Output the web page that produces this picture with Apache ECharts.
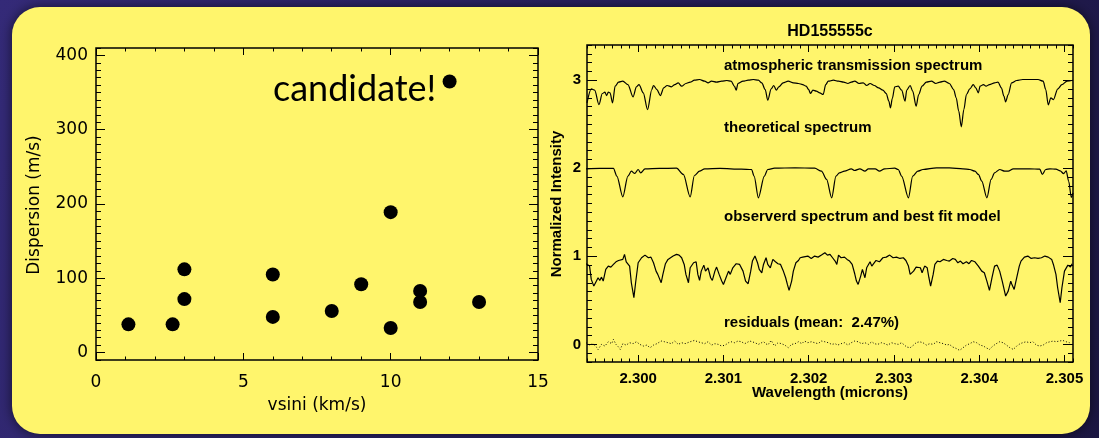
<!DOCTYPE html>
<html>
<head>
<meta charset="utf-8">
<script src="https://cdn.jsdelivr.net/npm/echarts@6/dist/echarts.min.js"></script>
<style>
  html, body { margin: 0; padding: 0; background: #221c52; }
  #main { width: 1099px; height: 438px; }
</style>
</head>
<body>
<div id="main"></div>
<script>
// left panel: scatter of dispersion vs vsini
var vsini = [1.1, 2.6, 3, 3, 6, 6, 8, 9, 10, 10, 11, 11, 13, 12];
var dispersion = [38, 38, 112, 72, 105, 48, 56, 92, 189, 33, 83, 68, 68, 365];
var vsiniTicks = [0, 5, 10, 15];
var dispersionTicks = [0, 100, 200, 300, 400];

// right panel: spectra, [wavelength (microns), normalized intensity]
var waveTicks = [2.300, 2.301, 2.302, 2.303, 2.304, 2.305];
var intensityTicks = [0, 1, 2, 3];

var atmosphere = [
  [2.29940,2.743],[2.29945,2.902],[2.29949,2.887],[2.29954,2.724],[2.29958,2.849],[2.29961,2.864],
  [2.29963,2.826],[2.29965,2.864],[2.29967,2.857],[2.29970,2.743],[2.29973,2.932],[2.29977,2.978],
  [2.29982,2.989],[2.29988,2.951],[2.29994,2.811],[2.29998,2.925],[2.30001,2.951],[2.30006,2.857],
  [2.30011,2.667],[2.30016,2.894],[2.30018,2.940],[2.30022,2.894],[2.30026,2.826],[2.30030,2.913],
  [2.30034,2.940],[2.30039,2.925],[2.30043,2.951],[2.30047,2.970],[2.30051,2.932],[2.30056,2.963],
  [2.30061,2.978],[2.30066,3.000],[2.30072,3.008],[2.30078,2.989],[2.30082,2.970],[2.30086,2.989],
  [2.30092,2.978],[2.30098,2.989],[2.30104,2.997],[2.30109,2.989],[2.30113,2.930],[2.30115,2.887],
  [2.30117,2.963],[2.30123,2.989],[2.30129,3.000],[2.30135,3.008],[2.30141,3.000],[2.30145,2.970],
  [2.30149,2.894],[2.30152,2.773],[2.30156,2.902],[2.30159,2.940],[2.30162,2.887],[2.30165,2.925],
  [2.30170,2.970],[2.30176,2.989],[2.30182,2.970],[2.30188,2.963],[2.30193,2.951],[2.30197,2.932],
  [2.30200,2.894],[2.30202,2.849],[2.30205,2.887],[2.30209,2.876],[2.30213,2.857],[2.30217,2.838],
  [2.30220,2.951],[2.30223,2.989],[2.30229,3.000],[2.30235,2.989],[2.30241,2.978],[2.30246,2.963],
  [2.30250,2.978],[2.30254,2.989],[2.30259,2.963],[2.30264,2.970],[2.30268,2.940],[2.30272,2.963],
  [2.30277,2.940],[2.30282,2.913],[2.30287,2.887],[2.30291,2.849],[2.30294,2.762],[2.30296,2.686],
  [2.30298,2.790],[2.30301,2.925],[2.30305,2.932],[2.30309,2.887],[2.30313,2.762],[2.30315,2.887],
  [2.30319,2.940],[2.30322,2.876],[2.30326,2.705],[2.30329,2.838],[2.30333,2.932],[2.30338,2.978],
  [2.30344,2.989],[2.30349,2.963],[2.30354,2.978],[2.30359,2.989],[2.30365,2.963],[2.30370,2.894],
  [2.30373,2.800],[2.30376,2.648],[2.30379,2.471],[2.30382,2.667],[2.30385,2.838],[2.30389,2.902],
  [2.30393,2.951],[2.30396,2.913],[2.30399,2.857],[2.30401,2.932],[2.30405,2.951],[2.30408,2.932],
  [2.30412,2.951],[2.30418,2.970],[2.30422,2.978],[2.30426,2.913],[2.30429,2.819],[2.30431,2.754],
  [2.30434,2.838],[2.30438,2.970],[2.30444,2.997],[2.30451,3.008],[2.30459,3.008],[2.30469,3.008],
  [2.30475,2.989],[2.30478,2.894],[2.30481,2.720],[2.30484,2.800],[2.30487,2.780],[2.30492,2.900],
  [2.30497,2.950],[2.30503,2.990],[2.30510,3.000]
];

var theory = [
  [2.29939,1.994],[2.29955,1.998],[2.29971,1.998],[2.29975,1.911],[2.29982,1.676],[2.29988,1.911],
  [2.29992,1.967],[2.29996,1.941],[2.30000,1.986],[2.30003,1.948],[2.30008,1.994],[2.30025,1.998],
  [2.30045,2.001],[2.30053,1.930],[2.30061,1.676],[2.30066,1.918],[2.30072,1.967],[2.30078,1.994],
  [2.30096,1.998],[2.30121,1.990],[2.30133,1.986],[2.30136,1.911],[2.30141,1.665],[2.30148,1.911],
  [2.30152,1.986],[2.30160,2.001],[2.30184,2.005],[2.30207,2.001],[2.30215,1.967],[2.30221,1.873],
  [2.30227,1.665],[2.30232,1.911],[2.30236,1.948],[2.30242,1.967],[2.30250,1.994],[2.30254,1.975],
  [2.30260,1.994],[2.30266,1.967],[2.30270,1.994],[2.30278,1.994],[2.30283,1.967],[2.30289,1.994],
  [2.30301,2.001],[2.30305,1.986],[2.30309,1.911],[2.30317,1.665],[2.30322,1.911],[2.30328,1.967],
  [2.30334,1.986],[2.30350,2.005],[2.30365,2.005],[2.30381,1.994],[2.30389,1.986],[2.30395,1.967],
  [2.30399,1.930],[2.30403,1.854],[2.30409,1.665],[2.30414,1.873],[2.30418,1.948],[2.30424,1.986],
  [2.30430,1.967],[2.30434,1.967],[2.30440,1.994],[2.30459,1.994],[2.30471,1.990],[2.30474,1.930],
  [2.30478,1.986],[2.30483,1.994],[2.30490,1.990],[2.30495,1.970],[2.30499,1.940],[2.30502,1.970],
  [2.30505,1.850],[2.30508,1.670],[2.30510,1.720]
];

var observed = [
  [2.29939,0.916],[2.29943,0.889],[2.29945,0.738],[2.29948,0.662],[2.29950,0.700],[2.29953,0.757],
  [2.29955,0.726],[2.29957,0.764],[2.29959,0.719],[2.29962,0.851],[2.29965,0.889],[2.29968,0.878],
  [2.29971,0.908],[2.29974,0.938],[2.29977,0.953],[2.29979,0.938],[2.29982,0.965],[2.29984,1.022],
  [2.29986,0.938],[2.29988,0.946],[2.29990,0.889],[2.29992,0.700],[2.29995,0.530],[2.29997,0.700],
  [2.30000,0.927],[2.30004,0.984],[2.30008,1.014],[2.30012,0.984],[2.30015,0.991],[2.30018,0.927],
  [2.30021,0.832],[2.30023,0.795],[2.30027,0.700],[2.30029,0.795],[2.30032,0.916],[2.30035,0.965],
  [2.30038,0.984],[2.30041,1.003],[2.30045,1.022],[2.30048,1.014],[2.30051,0.984],[2.30054,0.908],
  [2.30056,0.795],[2.30059,0.700],[2.30061,0.870],[2.30065,0.927],[2.30068,0.938],[2.30070,0.795],
  [2.30072,0.726],[2.30074,0.832],[2.30077,0.900],[2.30079,0.832],[2.30082,0.870],[2.30085,0.757],
  [2.30087,0.726],[2.30090,0.832],[2.30092,0.878],[2.30095,0.795],[2.30098,0.719],[2.30100,0.681],
  [2.30103,0.757],[2.30106,0.832],[2.30108,0.795],[2.30111,0.870],[2.30115,0.916],[2.30117,0.938],
  [2.30119,0.908],[2.30123,0.832],[2.30126,0.719],[2.30129,0.689],[2.30132,0.832],[2.30134,0.946],
  [2.30137,1.003],[2.30140,0.927],[2.30142,0.851],[2.30145,0.813],[2.30147,0.908],[2.30150,0.984],
  [2.30152,0.908],[2.30155,0.870],[2.30158,0.965],[2.30161,0.938],[2.30164,0.916],[2.30167,0.908],
  [2.30170,0.840],[2.30173,0.757],[2.30175,0.681],[2.30177,0.613],[2.30180,0.719],[2.30182,0.832],
  [2.30185,0.927],[2.30188,0.953],[2.30190,0.984],[2.30193,0.991],[2.30195,0.984],[2.30199,1.003],
  [2.30203,0.976],[2.30207,1.003],[2.30211,0.991],[2.30215,1.014],[2.30219,1.040],[2.30222,1.014],
  [2.30225,1.022],[2.30228,0.984],[2.30231,0.946],[2.30233,0.908],[2.30235,1.014],[2.30238,0.984],
  [2.30242,0.991],[2.30245,0.965],[2.30248,0.946],[2.30251,0.908],[2.30254,0.802],[2.30256,0.719],
  [2.30258,0.681],[2.30261,0.776],[2.30263,0.851],[2.30266,0.757],[2.30268,0.870],[2.30272,0.938],
  [2.30274,0.889],[2.30276,0.870],[2.30279,0.953],[2.30283,0.938],[2.30287,0.984],[2.30291,0.991],
  [2.30295,1.014],[2.30299,0.984],[2.30303,0.991],[2.30307,0.976],[2.30311,0.984],[2.30314,0.953],
  [2.30317,0.889],[2.30319,0.795],[2.30323,0.832],[2.30326,0.878],[2.30328,0.900],[2.30331,0.870],
  [2.30333,0.813],[2.30336,0.889],[2.30339,0.870],[2.30341,0.757],[2.30343,0.662],[2.30346,0.795],
  [2.30348,0.908],[2.30351,0.946],[2.30354,0.938],[2.30358,0.965],[2.30362,0.953],[2.30365,0.946],
  [2.30369,0.976],[2.30372,0.965],[2.30375,0.927],[2.30378,0.946],[2.30381,0.916],[2.30385,0.938],
  [2.30388,0.916],[2.30391,0.953],[2.30395,0.938],[2.30399,0.889],[2.30403,0.832],[2.30406,0.813],
  [2.30409,0.719],[2.30412,0.613],[2.30415,0.757],[2.30418,0.889],[2.30421,0.900],[2.30424,0.832],
  [2.30427,0.719],[2.30431,0.549],[2.30434,0.605],[2.30437,0.719],[2.30438,0.689],[2.30441,0.624],
  [2.30444,0.757],[2.30447,0.889],[2.30449,0.946],[2.30453,0.991],[2.30457,1.003],[2.30461,0.976],
  [2.30465,0.984],[2.30469,0.976],[2.30473,0.984],[2.30477,1.003],[2.30481,0.991],[2.30485,0.965],
  [2.30487,0.908],[2.30490,0.795],[2.30492,0.643],[2.30495,0.473],[2.30497,0.643],[2.30500,0.832],
  [2.30504,0.900],[2.30507,0.878],[2.30509,0.916]
];

var residuals = [
  [2.29939,0.019],[2.29943,-0.008],[2.29947,0.008],[2.29951,-0.030],[2.29953,-0.057],[2.29957,0.000],
  [2.29961,-0.019],[2.29965,0.030],[2.29969,0.008],[2.29971,0.057],[2.29974,0.000],[2.29977,-0.030],
  [2.29979,-0.057],[2.29982,0.008],[2.29986,-0.008],[2.29990,0.019],[2.29994,0.008],[2.29998,0.030],
  [2.30002,0.000],[2.30006,-0.019],[2.30010,-0.008],[2.30014,-0.038],[2.30018,-0.008],[2.30022,0.008],
  [2.30027,0.038],[2.30031,0.030],[2.30035,0.019],[2.30039,0.008],[2.30043,0.038],[2.30047,0.000],
  [2.30051,0.019],[2.30055,0.008],[2.30061,0.030],[2.30066,0.045],[2.30070,0.030],[2.30074,0.019],
  [2.30078,0.008],[2.30082,0.030],[2.30086,-0.008],[2.30090,0.008],[2.30094,0.000],[2.30098,-0.019],
  [2.30102,-0.008],[2.30106,0.019],[2.30109,0.030],[2.30113,0.019],[2.30117,0.038],[2.30121,0.030],
  [2.30125,0.008],[2.30131,0.038],[2.30137,0.019],[2.30141,0.000],[2.30147,0.030],[2.30152,-0.008],
  [2.30156,0.045],[2.30160,-0.019],[2.30164,0.019],[2.30168,0.008],[2.30172,-0.008],[2.30176,-0.038],
  [2.30180,0.000],[2.30184,0.008],[2.30188,0.030],[2.30192,0.008],[2.30195,0.038],[2.30199,0.019],
  [2.30203,0.030],[2.30207,0.019],[2.30211,0.008],[2.30215,0.038],[2.30219,0.030],[2.30223,0.019],
  [2.30227,0.000],[2.30231,0.008],[2.30234,-0.008],[2.30238,0.008],[2.30242,0.019],[2.30246,-0.008],
  [2.30250,0.019],[2.30254,0.038],[2.30258,0.030],[2.30262,0.008],[2.30266,0.019],[2.30270,0.000],
  [2.30274,0.030],[2.30277,0.008],[2.30281,0.000],[2.30285,0.019],[2.30289,0.008],[2.30293,-0.008],
  [2.30297,0.019],[2.30301,0.008],[2.30305,0.000],[2.30309,0.019],[2.30311,0.008],[2.30315,-0.030],
  [2.30319,-0.038],[2.30323,-0.008],[2.30326,0.019],[2.30330,0.030],[2.30334,0.019],[2.30338,-0.008],
  [2.30342,0.008],[2.30346,0.000],[2.30350,0.030],[2.30354,0.019],[2.30358,0.008],[2.30362,-0.008],
  [2.30365,0.000],[2.30369,-0.030],[2.30373,-0.046],[2.30377,-0.068],[2.30381,-0.038],[2.30385,-0.008],
  [2.30389,0.008],[2.30393,0.030],[2.30397,0.019],[2.30401,-0.008],[2.30405,-0.019],[2.30408,-0.038],
  [2.30412,-0.057],[2.30416,-0.019],[2.30420,0.008],[2.30424,0.030],[2.30428,0.019],[2.30432,-0.008],
  [2.30436,-0.038],[2.30440,-0.057],[2.30444,-0.019],[2.30448,0.008],[2.30451,0.019],[2.30455,0.030],
  [2.30459,0.019],[2.30463,0.030],[2.30467,-0.008],[2.30471,-0.019],[2.30475,-0.008],[2.30479,0.019],
  [2.30483,0.030],[2.30487,0.038],[2.30490,0.030],[2.30494,0.038],[2.30498,0.045],[2.30502,0.030],
  [2.30506,0.019]
];

var black = '#000';

// tick positions between two limits (used for the small inner ticks)
function steps(from, to, step) {
  var out = [];
  var n = Math.round((to - from) / step);
  for (var i = 0; i <= n; i++) out.push(Math.round((from + i * step) * 1e6) / 1e6);
  return out;
}

// every axis draws its ticks inside the frame, IDL style
function tickAxis(grid, pos, min, max, ticks, len, label) {
  var a = {
    type: 'value', gridIndex: grid, position: pos, min: min, max: max,
    axisLine: { show: false, onZero: false },
    splitLine: { show: false },
    axisLabel: { show: false },
    axisTick: { show: true, inside: true, length: len, customValues: ticks,
      lineStyle: { color: black, width: 1 } }
  };
  if (label) {
    a.axisLabel = Object.assign({ show: true, customValues: ticks, color: black }, label);
  }
  return a;
}

var leftLabel = { fontFamily: 'DejaVu Sans', fontSize: 17 };
var rightLabel = { fontFamily: 'Liberation Sans', fontWeight: 'bold', fontSize: 15 };

var xMinorL = steps(0, 15, 1);
var yMinorL = steps(-10, 410, 10);
var xMinorR = steps(2.2994, 2.3051, 0.0001);
var yMinorR = steps(-0.2, 3.4, 0.1);

var xAxes = [
  tickAxis(0, 'bottom', 0, 15, vsiniTicks, 7, Object.assign({ margin: 14 }, leftLabel)),
  tickAxis(0, 'bottom', 0, 15, xMinorL, 3.5),
  tickAxis(0, 'top', 0, 15, vsiniTicks, 7),
  tickAxis(0, 'top', 0, 15, xMinorL, 3.5),
  tickAxis(1, 'bottom', 2.2994, 2.3051, waveTicks, 7,
    Object.assign({ margin: 9, formatter: function (v) { return v.toFixed(3); } }, rightLabel)),
  tickAxis(1, 'bottom', 2.2994, 2.3051, xMinorR, 3.5),
  tickAxis(1, 'top', 2.2994, 2.3051, waveTicks, 7),
  tickAxis(1, 'top', 2.2994, 2.3051, xMinorR, 3.5)
];
var yAxes = [
  tickAxis(0, 'left', -10, 410, dispersionTicks, 9, Object.assign({ margin: 8 }, leftLabel)),
  tickAxis(0, 'left', -10, 410, yMinorL, 5),
  tickAxis(0, 'right', -10, 410, dispersionTicks, 9),
  tickAxis(0, 'right', -10, 410, yMinorL, 5),
  tickAxis(1, 'left', -0.2, 3.4, intensityTicks, 10, Object.assign({ margin: 6 }, rightLabel)),
  tickAxis(1, 'left', -0.2, 3.4, yMinorR, 5),
  tickAxis(1, 'right', -0.2, 3.4, intensityTicks, 10),
  tickAxis(1, 'right', -0.2, 3.4, yMinorR, 5)
];

function label(text, x, y, font, align, rot) {
  return {
    type: 'text', z: 100, x: x, y: y, rotation: rot || 0,
    style: { text: text, font: font, fill: black, textAlign: align || 'center', textVerticalAlign: 'middle' }
  };
}

var boldFont = 'bold 15px "Liberation Sans", Arial, sans-serif';
var spectrumLine = { color: black, width: 1.2 };

var option = {
  animation: false,
  backgroundColor: '#221c52',
  grid: [
    { left: 96, top: 48, width: 442, height: 312, show: true, borderColor: black, borderWidth: 1.5,
      backgroundColor: 'transparent', outerBoundsMode: 'none' },
    { left: 587, top: 45, width: 486, height: 317, show: true, borderColor: black, borderWidth: 1.5,
      backgroundColor: 'transparent', outerBoundsMode: 'none' }
  ],
  xAxis: xAxes,
  yAxis: yAxes,
  graphic: [
    { type: 'rect', z: -10, shape: { x: 0, y: 0, width: 1099, height: 438 },
      style: { fill: new echarts.graphic.LinearGradient(0, 0, 1, 1, [
        { offset: 0, color: '#342a78' }, { offset: 1, color: '#1b1642' }]) } },
    { type: 'rect', z: -9, shape: { x: 12, y: 7, width: 1078, height: 427, r: 28 },
      style: { fill: '#fff56c', shadowBlur: 12, shadowColor: 'rgba(0,0,0,0.6)' } },
    label('candidate!', 273, 89, '36px Lato, sans-serif', 'left'),
    label('vsini (km/s)', 317, 406, '17px "DejaVu Sans", sans-serif'),
    label('Dispersion (m/s)', 35, 205, '17px "DejaVu Sans", sans-serif', 'center', Math.PI / 2),
    label('HD155555c', 830, 32, 'bold 16px "Liberation Sans", Arial, sans-serif'),
    label('atmospheric transmission spectrum', 724, 66, boldFont, 'left'),
    label('theoretical spectrum', 724, 128, boldFont, 'left'),
    label('observerd spectrum and best fit model', 724, 217, boldFont, 'left'),
    label('residuals (mean:  2.47%)', 724, 323, boldFont, 'left'),
    label('Normalized Intensity', 557, 204, 'bold 15px "Liberation Sans", Arial, sans-serif', 'center', Math.PI / 2),
    label('Wavelength (microns)', 830, 393, 'bold 15px "Liberation Sans", Arial, sans-serif')
  ],
  series: [
    {
      type: 'scatter', xAxisIndex: 0, yAxisIndex: 0, symbolSize: 14,
      itemStyle: { color: black, opacity: 1 },
      data: vsini.map(function (v, i) { return [v, dispersion[i]]; })
    },
    {
      name: 'atmospheric', type: 'line', xAxisIndex: 4, yAxisIndex: 4, showSymbol: false,
      smooth: 0.3, smoothMonotone: 'x', lineStyle: spectrumLine, data: atmosphere
    },
    {
      name: 'theoretical', type: 'line', xAxisIndex: 4, yAxisIndex: 4, showSymbol: false,
      smooth: 0.3, smoothMonotone: 'x', lineStyle: spectrumLine, data: theory
    },
    {
      name: 'observed', type: 'line', xAxisIndex: 4, yAxisIndex: 4, showSymbol: false,
      lineStyle: spectrumLine, data: observed
    },
    {
      name: 'residuals', type: 'line', xAxisIndex: 4, yAxisIndex: 4, showSymbol: false,
      lineStyle: { color: black, width: 1, type: [1, 2] }, data: residuals
    }
  ]
};

var chart = echarts.init(document.getElementById('main'));
chart.setOption(option);
</script>
</body>
</html>
